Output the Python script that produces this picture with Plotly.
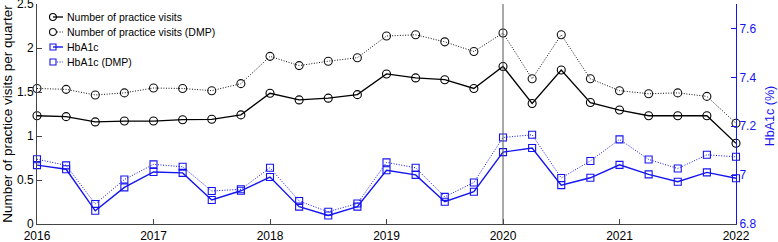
import plotly.graph_objects as go

quarters = [2016.0, 2016.25, 2016.5, 2016.75,
            2017.0, 2017.25, 2017.5, 2017.75,
            2018.0, 2018.25, 2018.5, 2018.75,
            2019.0, 2019.25, 2019.5, 2019.75,
            2020.0, 2020.25, 2020.5, 2020.75,
            2021.0, 2021.25, 2021.5, 2021.75,
            2022.0]

visits = [1.23, 1.22, 1.16, 1.17,
          1.17, 1.185, 1.19, 1.24,
          1.485, 1.41, 1.43, 1.47,
          1.705, 1.66, 1.64, 1.54,
          1.79, 1.37, 1.75, 1.38,
          1.295, 1.23, 1.23, 1.23,
          0.917]

visits_dmp = [1.54, 1.53, 1.466, 1.49,
              1.545, 1.54, 1.515, 1.595,
              1.905, 1.80, 1.85, 1.89,
              2.136, 2.15, 2.07, 1.96,
              2.17, 1.65, 2.15, 1.65,
              1.515, 1.48, 1.49, 1.45,
              1.145]

hba1c = [7.041, 7.024, 6.854, 6.95,
         7.013, 7.009, 6.898, 6.936,
         6.992, 6.871, 6.835, 6.871,
         7.02, 7.001, 6.891, 6.932,
         7.094, 7.111, 6.959, 6.989,
         7.042, 7.003, 6.973, 7.011,
         6.987]

hba1c_dmp = [7.065, 7.04, 6.882, 6.982,
             7.044, 7.034, 6.935, 6.942,
             7.03, 6.894, 6.85, 6.884,
             7.052, 7.03, 6.911, 6.97,
             7.154, 7.165, 6.988, 7.058,
             7.146, 7.064, 7.027, 7.083,
             7.075]

series_names = ["Number of practice visits", "Number of practice visits (DMP)",
                "HbA1c", "HbA1c (DMP)"]
year_ticks = [2016, 2017, 2018, 2019, 2020, 2021, 2022]
left_ticks = [0, 0.5, 1, 1.5, 2, 2.5]
left_tick_text = ["0", "0.5", "1", "1.5", "2", "2.5"]
right_ticks = [6.8, 7.0, 7.2, 7.4, 7.6]
right_tick_text = ["6.8", "7", "7.2", "7.4", "7.6"]
covid_line = 2020

BLUE = "#1414f0"
DOT = "1px,1.6px"
FONT = "Liberation Sans, Arial, sans-serif"

# figure geometry (pixels)
W, H = 778, 242
ML, MR, MT, MB = 37, 42, 4, 18
PW, PH = W - ML - MR, H - MT - MB


def px_x(px):
    return (px - ML) / PW


def px_y(py):
    return (H - MB - py) / PH


styles = [
    dict(color="black", width=1.3, dash="solid", symbol="circle-open", shape="circle", msize=8),
    dict(color="#111111", width=1.0, dash=DOT, symbol="circle-open", shape="circle", msize=8),
    dict(color=BLUE, width=1.4, dash="solid", symbol="square-open", shape="rect", msize=7),
    dict(color=BLUE, width=1.0, dash=DOT, symbol="square-open", shape="rect", msize=7),
]
values = [visits, visits_dmp, hba1c, hba1c_dmp]
axes = ["y", "y", "y2", "y2"]

fig = go.Figure()
for name, vals, st, ax in zip(series_names, values, styles, axes):
    fig.add_trace(go.Scatter(
        x=quarters, y=vals, name=name, mode="lines+markers", yaxis=ax,
        showlegend=False, cliponaxis=False,
        line=dict(color=st["color"], width=st["width"], dash=st["dash"]),
        marker=dict(symbol=st["symbol"], size=st["msize"], color=st["color"],
                    line=dict(width=1.1, color=st["color"]))))

fig.add_shape(type="line", xref="x", yref="paper", x0=covid_line, x1=covid_line,
              y0=0, y1=1, line=dict(color="#555555", width=1))

# manual compact legend (MATLAB-like)
leg_rows = [17, 32, 47, 62]
for name, st, py in zip(series_names, styles, leg_rows):
    yy = px_y(py)
    x_start = 53 if st["dash"] == "solid" else 57
    fig.add_shape(type="line", xref="paper", yref="paper",
                  x0=px_x(x_start), x1=px_x(63), y0=yy, y1=yy,
                  line=dict(color=st["color"], width=st["width"], dash=st["dash"]))
    r = 3.5 if st["shape"] == "circle" else 3
    fig.add_shape(type=st["shape"], xref="paper", yref="paper",
                  xsizemode="pixel", ysizemode="pixel",
                  xanchor=px_x(53), yanchor=yy, x0=-r, x1=r, y0=-r, y1=r,
                  line=dict(color=st["color"], width=1.1), fillcolor="rgba(0,0,0,0)")
    fig.add_annotation(text=name, xref="paper", yref="paper", x=px_x(65), y=yy,
                       xanchor="left", yanchor="middle", showarrow=False,
                       font=dict(size=10.5, color="black"))

# right axis title
fig.add_annotation(text="HbA1c (%)", xref="paper", yref="paper", x=px_x(770), y=0.49,
                   xanchor="center", yanchor="middle", textangle=-90, showarrow=False,
                   font=dict(size=12.5, color=BLUE))

fig.update_layout(
    width=W, height=H,
    margin=dict(l=ML, r=MR, t=MT, b=MB, autoexpand=False),
    paper_bgcolor="white", plot_bgcolor="white",
    font=dict(family=FONT, size=12, color="black"),
    showlegend=False,
    xaxis=dict(range=[2016, 2022], tickvals=year_ticks,
               ticktext=[str(t) for t in year_ticks],
               ticks="inside", ticklen=5, tickcolor="#444444",
               showline=True, linecolor="#444444", linewidth=1,
               showgrid=False, zeroline=False, tickfont=dict(size=12),
               ticklabelstandoff=1, automargin=False, ticklabeloverflow="allow"),
    yaxis=dict(range=[0, 2.5], tickvals=left_ticks, ticktext=left_tick_text,
               ticks="inside", ticklen=5, tickcolor="#444444",
               showline=True, linecolor="#444444", linewidth=1,
               showgrid=False, zeroline=False, tickfont=dict(size=12),
               automargin=False, ticklabeloverflow="allow",
               title=dict(text="Number of practice visits per quarter",
                          font=dict(size=13.5), standoff=4)),
    yaxis2=dict(range=[6.8, 7.7], overlaying="y", side="right", anchor="x",
                tickvals=right_ticks, ticktext=right_tick_text,
                ticks="inside", ticklen=5, tickcolor=BLUE,
                showline=True, linecolor=BLUE, linewidth=1,
                showgrid=False, zeroline=False, automargin=False,
                ticklabeloverflow="allow",
                tickfont=dict(size=12, color=BLUE)),
)

fig.write_html("out.html", config={"displayModeBar": False},
               post_script="document.body.style.margin='0';document.body.style.overflow='hidden';")
